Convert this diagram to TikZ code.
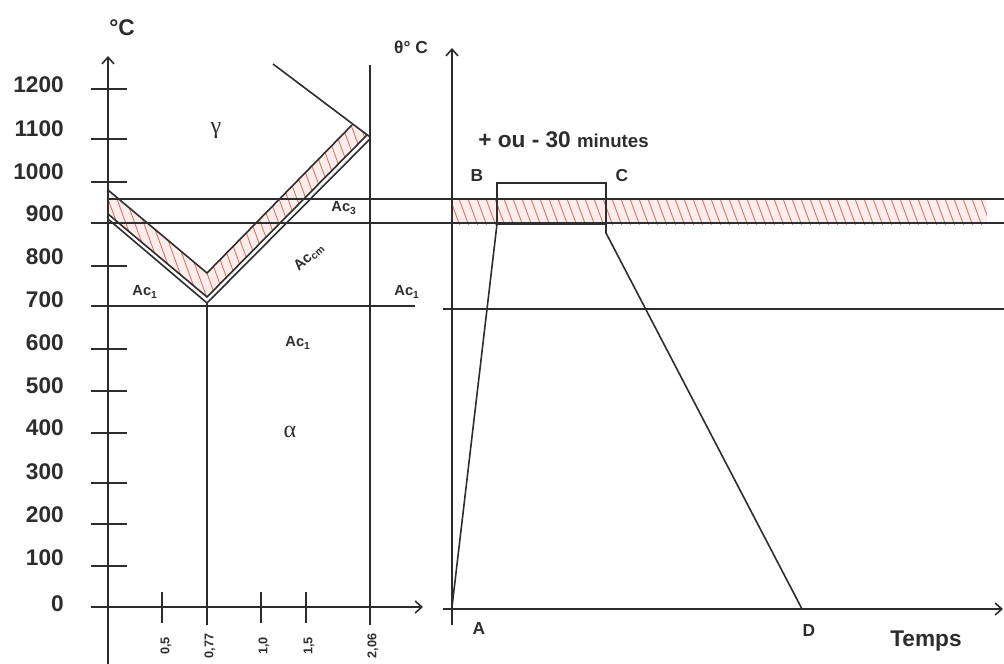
\documentclass[tikz,border=0pt]{standalone}
\usepackage{fontspec}
\setmainfont{Liberation Sans}
\newfontfamily\greekserif{Liberation Serif}
\usetikzlibrary{arrows.meta}
\definecolor{hatchc}{RGB}{222,118,108}
\definecolor{bandc}{RGB}{253,238,236}
\definecolor{inkc}{RGB}{45,45,45}
\begin{document}
\begin{tikzpicture}[x=0.75pt,y=-0.75pt,
  ln/.style={line width=1.2pt, draw=inkc},
  hatch/.style={line width=0.7pt, draw=hatchc},
  axarrow/.style={ln,-{Straight Barb[length=5pt,width=9pt]}},
  big/.style={font=\bfseries\fontsize{17}{20}\selectfont, text=inkc, inner sep=0pt},
  mid/.style={font=\bfseries\fontsize{13}{15}\selectfont, text=inkc, inner sep=0pt},
  small/.style={font=\bfseries\fontsize{11}{13}\selectfont, text=inkc, inner sep=0pt},
  tiny/.style={font=\bfseries\fontsize{9.5}{11}\selectfont, text=inkc, inner sep=0pt, rotate=90},
  greek/.style={font=\greekserif\fontsize{18}{20}\selectfont, text=inkc, inner sep=0pt}]
\useasboundingbox (0,0) rectangle (1004,664);

% ---- key points of the V band
\coordinate (TL) at (108,190);
\coordinate (TV) at (207,273);
\coordinate (TR) at (352,125);
\coordinate (IL) at (108,214);
\coordinate (IV) at (207,297);
\coordinate (IR) at (367,135);
\coordinate (OL) at (108,219);
\coordinate (OV) at (207,303);
\coordinate (OR) at (370,139);
\coordinate (CapS) at (273,64);
\coordinate (CapE) at (370,137);

% ---- hatched V band
\fill[bandc] (TL)--(TV)--(TR)--(IR)--(IV)--(IL)--cycle;
\begin{scope}
  \clip (TL)--(TV)--(TR)--(IR)--(IV)--(IL)--cycle;
  \foreach \x in {0,9,...,450} \draw[hatch] (\x,100) -- ++(80,220);
\end{scope}

% ---- hatched horizontal band (right)
\fill[bandc] (453,199) rectangle (987,224);
\begin{scope}
  \clip (453,199) rectangle (987,224);
  \foreach \x in {440,449,...,995} \draw[hatch] (\x,196) -- ++(11,30);
\end{scope}

% ---- V lines
\draw[ln] (TL)--(TV)--(TR);
\draw[ln] (IL)--(IV)--(IR);
\draw[ln] (OL)--(OV)--(OR);
\draw[ln] (CapS)--(CapE);

% ---- horizontal lines
\draw[ln] (108,199)--(1004,199);
\draw[ln] (91,223)--(1004,223);
\draw[ln] (91,306)--(415,306);
\draw[ln] (443,309)--(1004,309);

% ---- left axes
\draw[axarrow] (108,664)--(108,56);
\draw[axarrow] (91,607)--(423,607);
\draw[ln] (OV)--(207,625);
\draw[ln] (370,65)--(370,625);
\foreach \y in {89,139,182,266,349,391,433,483,524,566}
  \draw[ln] (91,\y)--(127,\y);
\foreach \x in {162,261,306}
  \draw[ln] (\x,592)--(\x,623);

% ---- y labels
\node[big,anchor=east] (l1200) at (64,85) {1200};
\node[big,anchor=east] (l1100) at (64,129) {1100};
\node[big,anchor=east] (l1000) at (64,172) {1000};
\node[big,anchor=east] (l900) at (64,214) {900};
\node[big,anchor=east] (l800) at (64,257) {800};
\node[big,anchor=east] (l700) at (64,300) {700};
\node[big,anchor=east] (l600) at (64,343) {600};
\node[big,anchor=east] (l500) at (64,386) {500};
\node[big,anchor=east] (l400) at (64,428) {400};
\node[big,anchor=east] (l300) at (64,472) {300};
\node[big,anchor=east] (l200) at (64,515) {200};
\node[big,anchor=east] (l100) at (64,558) {100};
\node[big,anchor=east] (l0) at (64,604) {0};
\node[big] (degC) at (122,28) {°C};

% ---- x tick labels
\node[tiny] (x05) at (166,646) {0,5};
\node[tiny] (x077) at (210,646) {0,77};
\node[tiny] (x10) at (264,646) {1,0};
\node[tiny] (x15) at (309,646) {1,5};
\node[tiny] (x206) at (373,646) {2,06};

% ---- phase labels
\node[greek] (gam) at (216,131) {γ};
\node[greek] (alp) at (290,432) {α};
\node[small] (ac3) at (344,208) {Ac\textsubscript{3}};
\node[small] (ac1a) at (145,292) {Ac\textsubscript{1}};
\node[small] (ac1b) at (407,292) {Ac\textsubscript{1}};
\node[small] (ac1c) at (298,343) {Ac\textsubscript{1}};
\node[small,rotate=42] (accm) at (309,257) {Ac\textsubscript{cm}};

% ---- right panel
\coordinate (A0) at (452,607);
\coordinate (B0) at (497,183);
\coordinate (C0) at (606,183);
\coordinate (D0) at (802,609);
\draw[axarrow] (452,625)--(452,48);
\draw[axarrow] (443,609)--(1003,609);
\draw[ln] (A0)--(497,224)--(B0)--(C0)--(606,233)--(D0);
\draw[ln,line width=1.8pt] (497,224)--(606,224);

\node[mid] (theta) at (411,47) {θ° C};
\node[big,anchor=west] (dur) at (478,140) {+ ou - 30 {\fontsize{14}{16}\selectfont minutes}};
\node[mid] (lB) at (477,176) {B};
\node[mid] (lC) at (622,176) {C};
\node[mid] (lA) at (479,629) {A};
\node[mid] (lD) at (809,631) {D};
\node[big] (temps) at (926,641) {Temps};
\end{tikzpicture}
\end{document}
